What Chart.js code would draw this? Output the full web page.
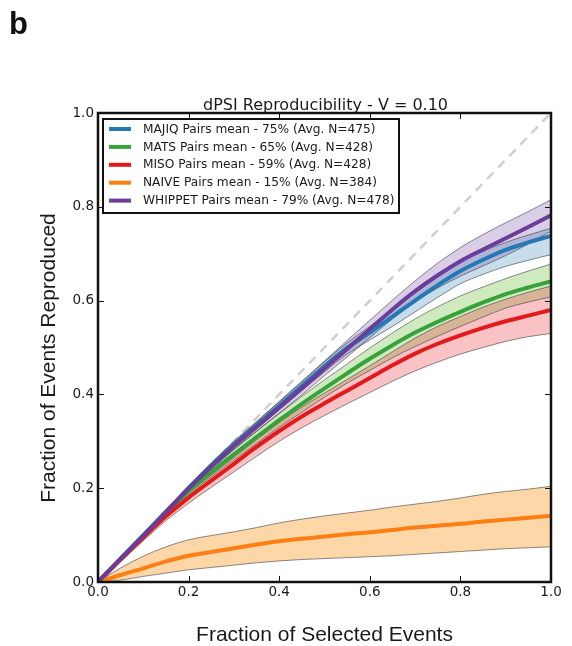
<!DOCTYPE html>
<html>
<head>
<meta charset="utf-8">
<script src="https://cdn.jsdelivr.net/npm/chart.js@4.4.1/dist/chart.umd.min.js"></script>
<style>
  html, body { margin: 0; padding: 0; background: #fff; }
  #wrap { position: relative; width: 572px; height: 646px; }
</style>
</head>
<body>
<div id="wrap"><canvas id="chart" width="572" height="646"></canvas></div>
<script>
// fraction of selected events (x positions of the sampled curve points)
const xs = [0, 0.05, 0.1, 0.15, 0.2, 0.25, 0.3, 0.35, 0.4, 0.45, 0.5,
            0.55, 0.6, 0.65, 0.7, 0.75, 0.8, 0.85, 0.9, 0.95, 1];

const majiqMean  = [0, .050, .100, .150, .200, .248, .293, .334, .376, .418, .460, .499, .532, .566, .600, .633, .663, .687, .708, .724, .738];
const majiqUpper = [0, .052, .103, .154, .205, .254, .300, .342, .385, .428, .470, .510, .545, .582, .617, .651, .682, .705, .724, .740, .754];
const majiqLower = [0, .048, .097, .146, .195, .242, .286, .326, .367, .408, .448, .486, .516, .545, .576, .607, .636, .656, .673, .686, .698];

const matsMean  = [0, .050, .099, .147, .193, .234, .272, .309, .345, .380, .413, .445, .476, .505, .532, .555, .576, .596, .614, .628, .641];
const matsUpper = [0, .052, .103, .153, .200, .243, .283, .322, .359, .396, .431, .465, .499, .531, .561, .587, .610, .629, .647, .663, .678];
const matsLower = [0, .047, .094, .140, .185, .224, .260, .295, .330, .362, .394, .424, .451, .478, .502, .524, .545, .565, .584, .597, .608];

const misoMean  = [0, .048, .095, .140, .180, .216, .252, .288, .322, .353, .381, .408, .435, .462, .487, .508, .526, .542, .556, .568, .580];
const misoUpper = [0, .051, .101, .148, .190, .228, .266, .304, .340, .373, .403, .432, .461, .491, .520, .545, .566, .586, .603, .618, .631];
const misoLower = [0, .044, .088, .131, .168, .202, .235, .268, .300, .329, .355, .380, .404, .428, .450, .469, .486, .500, .513, .523, .530];

const naiveMean  = [0, .015, .029, .044, .056, .064, .072, .080, .087, .092, .097, .102, .106, .111, .116, .120, .124, .129, .133, .137, .141];
const naiveUpper = [0, .030, .055, .075, .090, .099, .107, .116, .126, .134, .141, .147, .153, .160, .166, .172, .179, .187, .193, .198, .204];
const naiveLower = [0, .004, .012, .019, .026, .031, .036, .041, .045, .048, .050, .052, .054, .056, .059, .062, .065, .068, .071, .073, .075];

const whippetMean  = [0, .050, .099, .149, .199, .246, .290, .331, .372, .413, .455, .497, .539, .581, .620, .654, .684, .709, .733, .757, .782];
const whippetUpper = [0, .052, .103, .154, .205, .253, .298, .341, .384, .427, .471, .515, .558, .601, .642, .680, .713, .741, .766, .790, .815];
const whippetLower = [0, .048, .095, .144, .193, .239, .282, .321, .360, .399, .440, .480, .521, .561, .597, .627, .652, .674, .696, .721, .748];

const seriesNames = ['MAJIQ', 'MATS', 'MISO', 'NAIVE', 'WHIPPET'];
const meanPct = [75, 65, 59, 15, 79];
const avgN = [475, 428, 428, 384, 478];

const tickValues = [0, 0.2, 0.4, 0.6, 0.8, 1.0];
const diagonal = [0, 1];

const means  = [majiqMean, matsMean, misoMean, naiveMean, whippetMean];
const uppers = [majiqUpper, matsUpper, misoUpper, naiveUpper, whippetUpper];
const lowers = [majiqLower, matsLower, misoLower, naiveLower, whippetLower];

const lineColors = ['#2279b5', '#38a23a', '#e31a1c', '#fb7f12', '#6a3d9a'];
const bandColors = ['rgba(31,120,180,0.25)', 'rgba(110,190,60,0.32)', 'rgba(235,40,45,0.28)',
                    'rgba(253,160,50,0.42)', 'rgba(106,61,154,0.25)'];

const legendLabels = seriesNames.map((n, i) => `${n} Pairs mean - ${meanPct[i]}% (Avg. N=${avgN[i]})`);

const pts = (arr) => xs.map((x, i) => ({ x, y: arr[i] }));

const datasets = [{
  label: 'diagonal',
  data: diagonal.map(v => ({ x: v, y: v })),
  borderColor: '#cfcfcf',
  borderWidth: 2.5,
  borderDash: [9, 7],
  pointRadius: 0,
  fill: false,
  order: 100
}];

seriesNames.forEach((name, k) => {
  datasets.push({
    label: name + ' upper',
    data: pts(uppers[k]),
    borderColor: 'rgba(60,60,60,0.75)',
    borderWidth: 0.8,
    pointRadius: 0,
    cubicInterpolationMode: 'monotone',
    fill: false,
    order: 80 - k * 2
  });
  datasets.push({
    label: name + ' lower',
    data: pts(lowers[k]),
    borderColor: 'rgba(60,60,60,0.75)',
    borderWidth: 0.8,
    backgroundColor: bandColors[k],
    pointRadius: 0,
    cubicInterpolationMode: 'monotone',
    fill: '-1',
    order: 79 - k * 2
  });
  datasets.push({
    label: name,
    data: pts(means[k]),
    borderColor: lineColors[k],
    borderWidth: 4,
    pointRadius: 0,
    cubicInterpolationMode: 'monotone',
    fill: false,
    order: 10 - k
  });
});

const textColor = '#1a1a1a';

const decorations = {
  id: 'decorations',
  afterDatasetsDraw(chart) {
    const { ctx, chartArea: a, scales: { x, y } } = chart;
    ctx.save();
    // inward ticks on all four sides
    ctx.strokeStyle = '#111';
    ctx.lineWidth = 1;
    ctx.beginPath();
    tickValues.forEach(v => {
      const px = Math.round(x.getPixelForValue(v)) + 0.5;
      ctx.moveTo(px, a.bottom); ctx.lineTo(px, a.bottom - 6);
      ctx.moveTo(px, a.top); ctx.lineTo(px, a.top + 6);
      const py = Math.round(y.getPixelForValue(v)) + 0.5;
      ctx.moveTo(a.left, py); ctx.lineTo(a.left + 6, py);
      ctx.moveTo(a.right, py); ctx.lineTo(a.right - 6, py);
    });
    ctx.stroke();
    // frame
    ctx.lineWidth = 2.5;
    ctx.strokeStyle = '#111';
    ctx.strokeRect(a.left, a.top, a.right - a.left, a.bottom - a.top);
    ctx.restore();
  },
  afterDraw(chart) {
    const { ctx, chartArea: a } = chart;
    ctx.save();
    // panel letter
    ctx.fillStyle = '#111';
    ctx.font = 'bold 31px "Liberation Sans", Arial, sans-serif';
    ctx.textBaseline = 'alphabetic';
    ctx.textAlign = 'left';
    ctx.fillText('b', 9, 34);

    // title
    ctx.fillStyle = textColor;
    ctx.font = '16px "DejaVu Sans", sans-serif';
    ctx.textAlign = 'center';
    ctx.fillText('dPSI Reproducibility - V = 0.10', (a.left + a.right) / 2 + 1, 109.5);

    // y axis title
    ctx.save();
    ctx.translate(55, 358);
    ctx.rotate(-Math.PI / 2);
    ctx.font = '21px "Liberation Sans", Arial, sans-serif';
    ctx.fillText('Fraction of Events Reproduced', 0, 0);
    ctx.restore();

    // legend
    const bx = a.left + 5, by = a.top + 6, bw = 296, bh = 94;
    ctx.fillStyle = '#fff';
    ctx.fillRect(bx, by, bw, bh);
    ctx.lineWidth = 2;
    ctx.strokeStyle = '#111';
    ctx.strokeRect(bx, by, bw, bh);
    ctx.font = '12.2px "DejaVu Sans", sans-serif';
    ctx.textAlign = 'left';
    ctx.textBaseline = 'middle';
    legendLabels.forEach((lab, i) => {
      const ry = by + 10 + i * 17.9;
      ctx.strokeStyle = lineColors[i];
      ctx.lineWidth = 4;
      ctx.beginPath();
      ctx.moveTo(bx + 6, ry);
      ctx.lineTo(bx + 28, ry);
      ctx.stroke();
      ctx.fillStyle = textColor;
      ctx.fillText(lab, bx + 40, ry + 0.5);
    });
    ctx.restore();
  }
};

const tickFont = { family: '"DejaVu Sans", sans-serif', size: 13.5 };

new Chart(document.getElementById('chart').getContext('2d'), {
  type: 'line',
  data: { datasets },
  options: {
    responsive: false,
    animation: false,
    devicePixelRatio: 1,
    layout: { padding: { top: 113, right: 21, bottom: 0, left: 0 } },
    plugins: {
      legend: { display: false },
      tooltip: { enabled: false },
      filler: { drawTime: 'beforeDatasetsDraw' }
    },
    scales: {
      x: {
        type: 'linear',
        min: 0,
        max: 1,
        grid: { display: false, drawTicks: false },
        border: { display: false },
        ticks: {
          stepSize: 0.2,
          padding: 2,
          color: textColor,
          font: tickFont,
          maxRotation: 0,
          callback: (v) => Number(v).toFixed(1)
        },
        title: {
          display: true,
          text: 'Fraction of Selected Events',
          color: textColor,
          font: { family: '"Liberation Sans", Arial, sans-serif', size: 21, lineHeight: 1 },
          padding: { top: 0, bottom: 0.5 }
        },
        afterFit(scale) { scale.height = 64; }
      },
      y: {
        type: 'linear',
        min: 0,
        max: 1,
        grid: { display: false, drawTicks: false },
        border: { display: false },
        ticks: {
          stepSize: 0.2,
          padding: 4,
          color: textColor,
          font: tickFont,
          callback: (v) => Number(v).toFixed(1)
        },
        afterFit(scale) { scale.width = 98; }
      }
    }
  },
  plugins: [decorations]
});
</script>
</body>
</html>
